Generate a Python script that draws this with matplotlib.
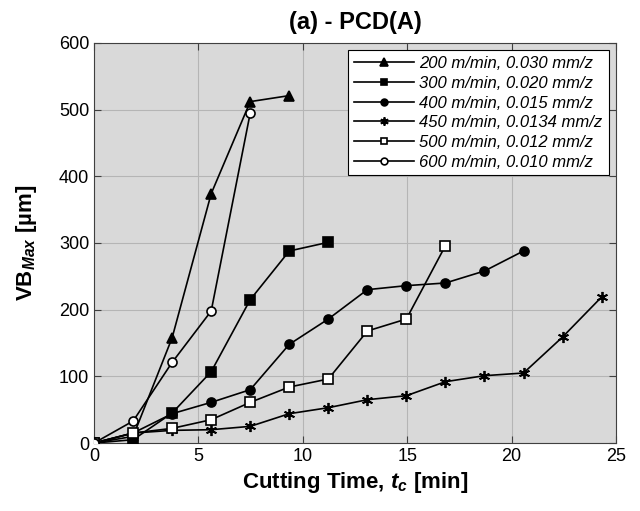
import matplotlib
matplotlib.use("Agg")
import matplotlib.pyplot as plt

plt.rcParams['font.family'] = ['Liberation Sans', 'DejaVu Sans']
plt.rcParams['mathtext.fontset'] = 'custom'
plt.rcParams['mathtext.rm'] = 'Liberation Sans'
plt.rcParams['mathtext.it'] = 'Liberation Sans:italic:bold'
plt.rcParams['mathtext.bf'] = 'Liberation Sans:bold'

labels = ["200 m/min, 0.030 mm/z", "300 m/min, 0.020 mm/z", "400 m/min, 0.015 mm/z",
          "450 m/min, 0.0134 mm/z", "500 m/min, 0.012 mm/z", "600 m/min, 0.010 mm/z"]

t200 = [0, 1.87, 3.74, 5.61, 7.48, 9.35]
vb200 = [0, 10, 158, 374, 512, 521]
t300 = [0, 1.87, 3.74, 5.61, 7.48, 9.35, 11.22]
vb300 = [0, 5, 45, 107, 215, 288, 301]
t400 = [0, 1.87, 3.74, 5.61, 7.48, 9.35, 11.22, 13.09, 14.96, 16.83, 18.70, 20.57]
vb400 = [0, 15, 44, 61, 80, 148, 186, 230, 236, 240, 258, 288]
t450 = [0, 1.87, 3.74, 5.61, 7.48, 9.35, 11.22, 13.09, 14.96, 16.83, 18.70, 20.57, 22.44, 24.31]
vb450 = [0, 15, 19, 20, 25, 44, 53, 65, 71, 92, 101, 105, 159, 219]
t500 = [0, 1.87, 3.74, 5.61, 7.48, 9.35, 11.22, 13.09, 14.96, 16.83]
vb500 = [0, 15, 22, 35, 61, 84, 96, 168, 186, 296]
t600 = [0, 1.87, 3.74, 5.61, 7.48]
vb600 = [0, 33, 121, 198, 495]

series = [(t200, vb200, '^', 'k'), (t300, vb300, 's', 'k'), (t400, vb400, 'o', 'k'),
          (t450, vb450, (6, 2, 0), 'k'), (t500, vb500, 's', 'w'), (t600, vb600, 'o', 'w')]

fig = plt.figure(figsize=(6.4, 5.11), dpi=100)
ax = fig.add_axes([0.147, 0.133, 0.8155, 0.783])
ax.set_facecolor('#d9d9d9')

for (t, v, m, fc), lab in zip(series, labels):
    ms = 7.5 if m == '^' else 6.5
    if m == (6, 2, 0):
        ax.plot(t, v, '-', color='k', lw=1.2, marker=(6, 2, 0), ms=8, mew=1.3, label=lab, zorder=3)
    else:
        ax.plot(t, v, '-', color='k', lw=1.2, marker=m, ms=ms, mfc=fc, mec='k', mew=1.2,
                label=lab, zorder=3)

ax.set_xlim(0, 25)
ax.set_ylim(0, 600)
ax.set_xticks([0, 5, 10, 15, 20, 25])
ax.set_yticks([0, 100, 200, 300, 400, 500, 600])
ax.grid(True, color='#b5b5b5', lw=0.8)
ax.set_axisbelow(True)
ax.tick_params(direction='in', top=True, right=True, labelsize=13, length=5, color='#404040')
for s in ax.spines.values():
    s.set_color('#404040')
    s.set_linewidth(0.8)

ax.set_xlabel(r'Cutting Time, $\mathit{t_c}$ [min]', fontsize=16, fontweight='bold', labelpad=4)
ax.set_ylabel(r'VB$_{\mathit{Max}}$ [µm]', fontsize=16, fontweight='bold', labelpad=14)
ax.set_title('(a) - PCD(A)', fontsize=17, fontweight='bold', pad=10)

leg = ax.legend(loc='upper right', prop={'style': 'italic', 'size': 12}, fancybox=False,
                edgecolor='k', framealpha=1, handlelength=3.6, borderaxespad=0.45,
                labelspacing=0.28, handletextpad=0.35, markerscale=0.75, borderpad=0.35)
leg.get_frame().set_linewidth(0.8)

fig.savefig('out.png', dpi=100)
